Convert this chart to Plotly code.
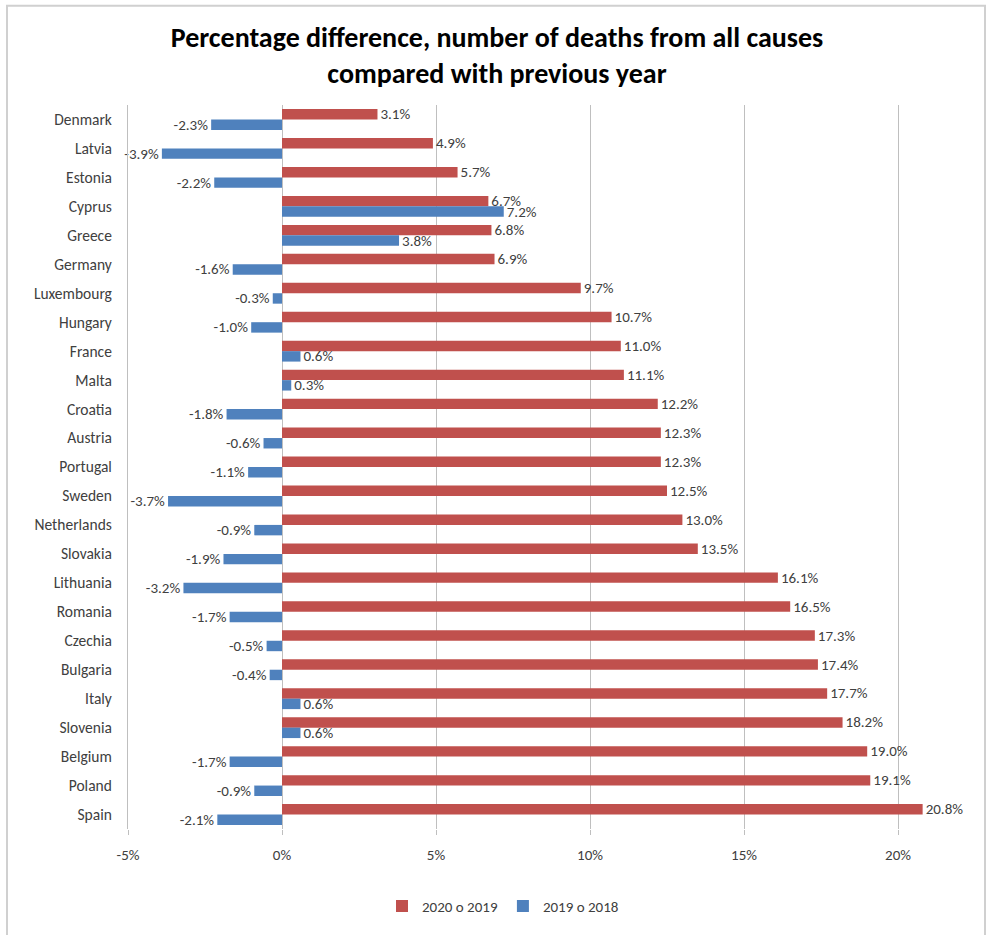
import plotly.graph_objects as go

countries = ["Denmark", "Latvia", "Estonia", "Cyprus", "Greece", "Germany", "Luxembourg",
             "Hungary", "France", "Malta", "Croatia", "Austria", "Portugal", "Sweden",
             "Netherlands", "Slovakia", "Lithuania", "Romania", "Czechia", "Bulgaria",
             "Italy", "Slovenia", "Belgium", "Poland", "Spain"]
change_2020 = [3.1, 4.9, 5.7, 6.7, 6.8, 6.9, 9.7, 10.7, 11.0, 11.1, 12.2, 12.3, 12.3, 12.5,
               13.0, 13.5, 16.1, 16.5, 17.3, 17.4, 17.7, 18.2, 19.0, 19.1, 20.8]
change_2019 = [-2.3, -3.9, -2.2, 7.2, 3.8, -1.6, -0.3, -1.0, 0.6, 0.3, -1.8, -0.6, -1.1, -3.7,
               -0.9, -1.9, -3.2, -1.7, -0.5, -0.4, 0.6, 0.6, -1.7, -0.9, -2.1]
series_names = ["2020 o 2019", "2019 o 2018"]
x_ticks = [-5, 0, 5, 10, 15, 20]
x_tick_labels = ["-5%", "0%", "5%", "10%", "15%", "20%"]

FONT = "Carlito, 'Liberation Sans Narrow', 'Liberation Sans', sans-serif"
TXT = "#404040"
W, H = 987, 935
ML, MR, MT, MB = 128, 12, 105, 100

fig = go.Figure()
for name, vals, col in [(series_names[0], change_2020, "#C0504D"),
                        (series_names[1], change_2019, "#4F81BD")]:
    fig.add_trace(go.Bar(
        y=countries, x=vals, name=name, orientation="h",
        marker=dict(color=col, line=dict(width=0)),
        text=[f"{v:.1f}%" for v in vals], textposition="outside",
        constraintext="none",
        textfont=dict(family=FONT, size=15, color=TXT),
        cliponaxis=False,
    ))

pw = W - ML - MR
ph = H - MT - MB
def px_x(p):
    return (p - ML) / pw
def px_y(p):
    return (H - MB - p) / ph

fig.update_layout(
    width=W, height=H,
    margin=dict(l=ML, r=MR, t=MT, b=MB),
    paper_bgcolor="white", plot_bgcolor="white",
    barmode="group", bargap=0.28, bargroupgap=0.0,
    title=dict(text="Percentage difference, number of deaths from all causes<br>compared with previous year",
               x=497 / W, xref="container", xanchor="center",
               y=1 - 47 / H, yref="container", yanchor="middle",
               font=dict(family=FONT, size=28, color="#000000", weight="bold")),
    showlegend=True,
    legend=dict(orientation="h", x=px_x(503), xanchor="center", y=px_y(913), yanchor="middle",
                font=dict(family=FONT, size=15, color=TXT), traceorder="normal",
                itemwidth=30),
    xaxis=dict(range=[-5, 22.5], tickvals=x_ticks, ticktext=x_tick_labels,
               showgrid=True, gridcolor="#BFBFBF", gridwidth=1,
               zeroline=True, zerolinecolor="#BFBFBF", zerolinewidth=1,
               showline=False, ticks="outside", ticklen=5, tickcolor="#BFBFBF",
               ticklabelstandoff=7,
               tickfont=dict(family=FONT, size=15, color=TXT)),
    yaxis=dict(autorange="reversed", showgrid=False, showline=True, linecolor="#BFBFBF",
               linewidth=1, ticks="", ticklabelstandoff=12,
               tickfont=dict(family=FONT, size=15.5, color=TXT)),
    shapes=[dict(type="rect", xref="paper", yref="paper",
                 x0=px_x(7), x1=px_x(985), y0=px_y(960), y1=px_y(5),
                 line=dict(color="#D0D0D0", width=2), fillcolor="rgba(0,0,0,0)", layer="below")],
)

fig.write_html("out.html")
